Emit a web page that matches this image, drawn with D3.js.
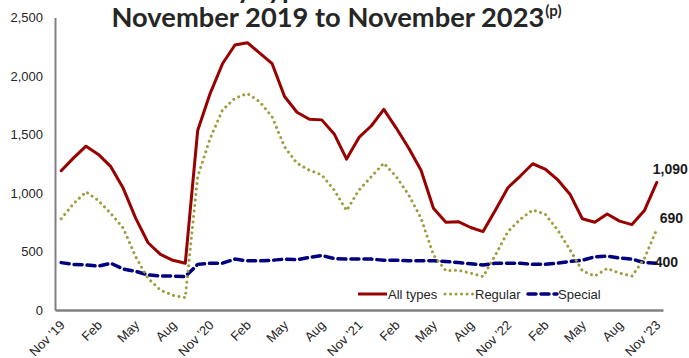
<!DOCTYPE html>
<html>
<head>
<meta charset="utf-8">
<script src="https://cdn.jsdelivr.net/npm/d3@7/dist/d3.min.js"></script>
<style>
  html, body { margin: 0; padding: 0; background: #fff; }
  svg { display: block; }
</style>
</head>
<body>
<svg id="chart" width="689" height="358"></svg>
<script>
// ---- Data ----
const months = ["Nov '19","Dec","Jan","Feb","Mar","Apr","May","Jun","Jul","Aug","Sep","Oct",
  "Nov '20","Dec","Jan","Feb","Mar","Apr","May","Jun","Jul","Aug","Sep","Oct",
  "Nov '21","Dec","Jan","Feb","Mar","Apr","May","Jun","Jul","Aug","Sep","Oct",
  "Nov '22","Dec","Jan","Feb","Mar","Apr","May","Jun","Jul","Aug","Sep","Oct",
  "Nov '23"];
const tickIdx = [0,3,6,9,12,15,18,21,24,27,30,33,36,39,42,45,48];
const yTicks = [0,500,1000,1500,2000,2500];

const allTypes = [1190,1300,1400,1330,1225,1040,785,575,475,425,400,
  1535,1850,2105,2265,2285,2195,2105,1825,1690,1630,1625,
  1505,1290,1475,1575,1715,1555,1385,1195,870,750,755,
  705,670,855,1045,1145,1250,1205,1115,990,780,750,
  820,760,730,850,1090];
const regular = [780,910,1010,935,825,700,455,270,170,125,105,
  1140,1465,1710,1810,1850,1780,1650,1395,1255,1195,1155,
  1025,850,1025,1140,1255,1140,985,785,470,335,340,
  315,285,470,670,775,855,820,685,515,335,290,
  355,315,290,440,690];
const special = [405,390,385,375,400,350,330,300,290,290,285,
  390,400,400,435,420,420,425,435,430,450,465,
  440,435,435,435,425,425,420,420,420,415,405,
  395,385,400,400,400,390,390,400,415,425,455,
  460,445,435,405,400];

const seriesNames = ["All types","Regular","Special"];
const endLabels = ["1,090","690","400"];
const titleLine1 = "Employment Insurance beneficiaries by type";
const titleLine2 = "November 2019 to November 2023";
const titleSup = "(p)";

// ---- Layout ----
const svg = d3.select("#chart");
const mLeft = 55, mRight = 663, mTop = 17.5, mBottom = 310;

const x = d3.scalePoint().domain(d3.range(months.length)).range([mLeft, mRight]).padding(0.5);
const y = d3.scaleLinear().domain([0, 2500]).range([mBottom, mTop]);

const textCol = "#262626";
const axisCol = "#808080";

// Title
const tfont = "Lato, 'Open Sans', sans-serif";
const t2 = svg.append("text")
  .attr("x", 111.5).attr("y", 26.5)
  .attr("font-family", tfont).attr("font-weight", 700)
  .attr("font-size", 100).attr("fill", textCol)
  .text(titleLine2);
const w100 = t2.node().getComputedTextLength();
const fs = 100 * 433 / w100;
t2.attr("font-size", fs);
const t2w = t2.node().getComputedTextLength();
svg.append("text")
  .attr("x", 111.5 + t2w + 1).attr("y", 26.5 - fs * 0.38)
  .attr("font-family", tfont).attr("font-weight", 700)
  .attr("font-size", fs * 0.55).attr("fill", textCol)
  .text(titleSup);
svg.append("text")
  .attr("x", 312).attr("y", -1.5)
  .attr("text-anchor", "end")
  .attr("font-family", tfont).attr("font-weight", 700)
  .attr("font-size", fs).attr("fill", textCol)
  .text(titleLine1);

// Y axis
const yAxis = d3.axisLeft(y).tickValues(yTicks).tickSize(0).tickPadding(12)
  .tickFormat(d3.format(","));
const gy = svg.append("g").attr("transform", `translate(${mLeft},0)`).call(yAxis);
gy.select(".domain").attr("stroke", axisCol).attr("stroke-width", 2);
gy.selectAll("text").attr("font-family", "'Liberation Sans', Arial, sans-serif")
  .attr("font-size", 13).attr("fill", textCol);

// X axis
const xAxis = d3.axisBottom(x).tickValues(tickIdx).tickSize(0).tickPadding(0)
  .tickFormat(i => months[i]);
const gx = svg.append("g").attr("transform", `translate(0,${mBottom})`).call(xAxis);
gx.select(".domain").attr("stroke", axisCol).attr("stroke-width", 2.5);
gx.selectAll("text")
  .attr("font-family", "'Liberation Sans', Arial, sans-serif")
  .attr("font-size", 13).attr("fill", textCol)
  .attr("text-anchor", "end")
  .attr("dy", "0")
  .attr("transform", "translate(4,16) rotate(-45)");

// Lines
const line = d3.line().x((d, i) => x(i)).y(d => y(d));
const styles = [
  {data: allTypes, color: "#990000", width: 3, dash: null, cap: "round"},
  {data: regular, color: "#A09B3E", width: 3, dash: "0.01 5.5", cap: "round"},
  {data: special, color: "#000080", width: 3.5, dash: "8 5", cap: "round"}
];
[2,1,0].forEach(k => {
  const s = styles[k];
  svg.append("path").datum(s.data)
    .attr("d", line)
    .attr("fill", "none")
    .attr("stroke", s.color)
    .attr("stroke-width", s.width)
    .attr("stroke-linejoin", "round")
    .attr("stroke-linecap", s.cap)
    .attr("stroke-dasharray", s.dash);
});

// End labels
const lastI = months.length - 1;
const endData = [allTypes[lastI], regular[lastI], special[lastI]];
const endDx = [-4, 3, -2];
const endDy = [-13, -11, -1];
endData.forEach((v, k) => {
  svg.append("text")
    .attr("x", x(lastI) + endDx[k])
    .attr("y", y(v) + endDy[k])
    .attr("dy", "0.35em")
    .attr("font-family", "'Liberation Sans', Arial, sans-serif")
    .attr("font-weight", 700).attr("font-size", 14)
    .attr("fill", "#1a1a1a")
    .text(endLabels[k]);
});

// Legend
const legX = [358, 445, 528];
const legY = 294;
seriesNames.forEach((name, k) => {
  const s = styles[k];
  svg.append("line")
    .attr("x1", legX[k]).attr("x2", legX[k] + 29)
    .attr("y1", legY).attr("y2", legY)
    .attr("stroke", s.color).attr("stroke-width", s.width)
    .attr("stroke-linecap", k === 0 ? "butt" : s.cap)
    .attr("stroke-dasharray", s.dash);
  svg.append("text")
    .attr("x", legX[k] + 30).attr("y", legY).attr("dy", "0.35em")
    .attr("font-family", "'Liberation Sans', Arial, sans-serif")
    .attr("font-size", 13).attr("fill", textCol)
    .text(name);
});
</script>
</body>
</html>
